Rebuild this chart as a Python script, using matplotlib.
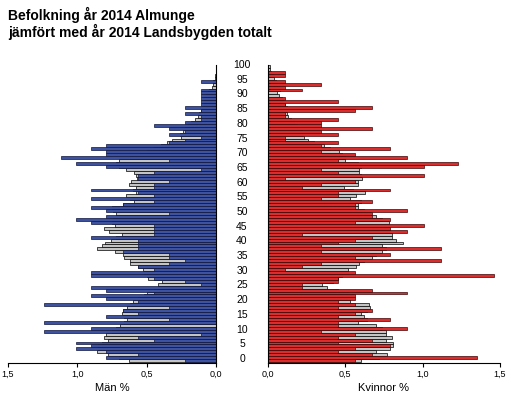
import matplotlib
matplotlib.use("Agg")
import matplotlib.pyplot as plt
import numpy as np

plt.rcParams['font.family'] = ['Liberation Sans', 'DejaVu Sans']

ages = list(range(0, 101))

# Almunge 2014, men (% of population)
men_almunge = [0.22, 0.79, 0.56, 0.79, 1.01, 0.90, 1.01, 0.45, 0.56, 0.11,
               1.24, 0.90, 0.00, 1.24, 0.34, 0.79, 0.56, 0.67, 0.34, 1.24,
               0.56, 0.79, 0.90, 0.45, 0.79, 0.90, 0.11, 0.22, 0.45, 0.90,
               0.90, 0.45, 0.56, 0.34, 0.22, 0.34, 0.34, 0.67, 0.56, 0.56,
               0.56, 0.56, 0.90, 0.45, 0.45, 0.45, 0.45, 0.90, 1.01, 0.79,
               0.34, 0.79, 0.90, 0.67, 0.45, 0.90, 0.45, 0.56, 0.90, 0.45,
               0.45, 0.34, 0.56, 0.56, 0.45, 0.11, 0.79, 1.01, 0.34, 1.12,
               0.79, 0.79, 0.90, 0.79, 0.34, 0.22, 0.11, 0.34, 0.22, 0.34,
               0.45, 0.22, 0.11, 0.11, 0.22, 0.11, 0.22, 0.11, 0.11, 0.11,
               0.11, 0.11, 0.11, 0.00, 0.00, 0.11, 0.00, 0.00, 0.00, 0.00,
               0.00]

# Landsbygden totalt 2014, men
men_lands = [0.63, 0.70, 0.78, 0.86, 0.85, 0.85, 0.82, 0.78, 0.81, 0.79,
             0.75, 0.72, 0.69, 0.66, 0.64, 0.66, 0.68, 0.67, 0.64, 0.62,
             0.60, 0.56, 0.52, 0.50, 0.45, 0.42, 0.42, 0.39, 0.49, 0.50,
             0.52, 0.53, 0.56, 0.62, 0.62, 0.66, 0.67, 0.73, 0.86, 0.82,
             0.80, 0.76, 0.72, 0.68, 0.77, 0.81, 0.73, 0.75, 0.74, 0.72,
             0.72, 0.74, 0.75, 0.67, 0.59, 0.62, 0.65, 0.58, 0.60, 0.58,
             0.63, 0.61, 0.57, 0.58, 0.59, 0.65, 0.70, 0.72, 0.70, 0.62,
             0.55, 0.50, 0.45, 0.40, 0.35, 0.32, 0.25, 0.26, 0.24, 0.22,
             0.20, 0.18, 0.15, 0.13, 0.12, 0.11, 0.10, 0.09, 0.09, 0.09,
             0.07, 0.06, 0.05, 0.03, 0.02, 0.02, 0.01, 0.01, 0.00, 0.00,
             0.00]

# Almunge 2014, women
women_almunge = [0.56, 1.35, 0.67, 0.45, 0.56, 0.79, 0.45, 0.67, 0.45, 0.56,
                 0.34, 0.90, 0.45, 0.45, 0.79, 0.45, 0.56, 0.67, 0.45, 0.56,
                 0.45, 0.56, 0.56, 0.90, 0.67, 0.22, 0.22, 0.45, 0.45, 1.46,
                 0.56, 0.11, 0.22, 0.34, 1.12, 0.56, 0.79, 0.34, 1.12, 0.34,
                 0.45, 0.56, 0.67, 0.22, 0.90, 0.79, 1.01, 0.56, 0.79, 0.67,
                 0.67, 0.90, 0.56, 0.56, 0.67, 0.34, 0.45, 0.45, 0.79, 0.22,
                 0.34, 0.56, 0.11, 1.01, 0.45, 0.34, 1.01, 1.23, 0.45, 0.90,
                 0.56, 0.34, 0.79, 0.34, 0.45, 0.11, 0.11, 0.45, 0.34, 0.67,
                 0.34, 0.34, 0.45, 0.11, 0.11, 0.56, 0.67, 0.11, 0.45, 0.11,
                 0.00, 0.00, 0.22, 0.11, 0.34, 0.11, 0.00, 0.11, 0.11, 0.00,
                 0.00]

# Landsbygden totalt 2014, women
women_lands = [0.60, 0.72, 0.77, 0.70, 0.79, 0.81, 0.81, 0.76, 0.80, 0.76,
               0.76, 0.74, 0.70, 0.58, 0.64, 0.62, 0.60, 0.64, 0.66, 0.65,
               0.53, 0.53, 0.55, 0.52, 0.45, 0.38, 0.35, 0.42, 0.45, 0.48,
               0.52, 0.52, 0.57, 0.59, 0.62, 0.67, 0.70, 0.74, 0.76, 0.74,
               0.87, 0.83, 0.80, 0.80, 0.79, 0.78, 0.78, 0.78, 0.74, 0.70,
               0.66, 0.62, 0.58, 0.58, 0.60, 0.53, 0.57, 0.63, 0.55, 0.49,
               0.58, 0.58, 0.61, 0.60, 0.59, 0.59, 0.60, 0.58, 0.50, 0.50,
               0.48, 0.46, 0.40, 0.36, 0.30, 0.26, 0.23, 0.22, 0.22, 0.20,
               0.19, 0.17, 0.15, 0.13, 0.12, 0.12, 0.12, 0.11, 0.10, 0.09,
               0.07, 0.06, 0.08, 0.07, 0.06, 0.05, 0.04, 0.03, 0.02, 0.01,
               0.01]

xticks = [0.0, 0.5, 1.0, 1.5]
xtick_labels = ["0,0", "0,5", "1,0", "1,5"]
age_ticks = list(range(0, 101, 5))

W, H = 511, 397
fig = plt.figure(figsize=(W / 100, H / 100), dpi=100)

bottom = 34 / H
height = 298 / H
ax_m = fig.add_axes([8 / W, bottom, 208 / W, height])
ax_w = fig.add_axes([268 / W, bottom, 232 / W, height])

grey = "#c4c4c4"
blue = "#3e52a2"
red = "#dc2c2c"

ax_m.barh(ages, men_lands, height=1.0, color=grey, edgecolor="black", linewidth=0.5)
ax_m.barh(ages, men_almunge, height=1.0, color=blue, edgecolor="#10163a", linewidth=0.5)
ax_w.barh(ages, women_lands, height=1.0, color=grey, edgecolor="black", linewidth=0.5)
ax_w.barh(ages, women_almunge, height=1.0, color=red, edgecolor="#3a0808", linewidth=0.5)

ax_m.set_xlim(1.5, 0)
ax_w.set_xlim(0, 1.5)

for ax in (ax_m, ax_w):
    ax.set_ylim(-0.8, 100.5)
    ax.set_yticks([])
    ax.set_xticks(xticks)
    ax.set_xticklabels(xtick_labels, fontsize=6.5)
    ax.tick_params(axis="x", direction="out", length=3, width=0.8, pad=2)
    ax.spines["top"].set_visible(False)
    for s in ax.spines.values():
        s.set_linewidth(0.8)

ax_m.spines["left"].set_visible(False)
ax_w.spines["right"].set_visible(False)

ax_m.set_xlabel("Män %", fontsize=8, labelpad=3)
ax_w.set_xlabel("Kvinnor %", fontsize=8, labelpad=3)

# age labels between the two panels
for a in age_ticks:
    fig.text(242 / W, 1 - (359 - 2.94 * a) / H, str(a), ha="center", va="center", fontsize=7.5)

fig.text(8 / W, 1 - 15 / H, "Befolkning år 2014 Almunge", fontsize=10, fontweight="bold", va="center")
fig.text(8 / W, 1 - 32 / H, "jämfört med år 2014 Landsbygden totalt", fontsize=10, fontweight="bold", va="center")

fig.savefig("out.png", dpi=100)
